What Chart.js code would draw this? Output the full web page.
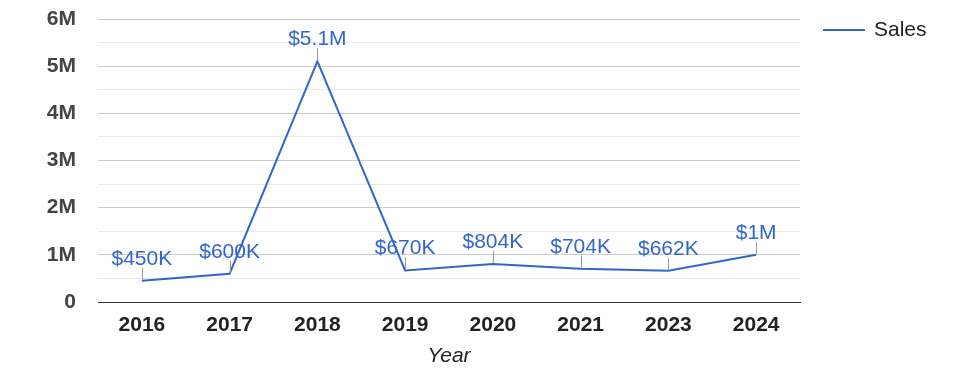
<!DOCTYPE html>
<html>
<head>
<meta charset="utf-8">
<script src="https://cdn.jsdelivr.net/npm/chart.js@4/dist/chart.umd.min.js"></script>
<style>
  html, body { margin: 0; padding: 0; background: #fff; }
  #wrap { width: 975px; height: 378px; }
</style>
</head>
<body>
<div id="wrap"><canvas id="chart-sales"></canvas></div>
<script>
var years = ["2016", "2017", "2018", "2019", "2020", "2021", "2023", "2024"];
var sales = [450000, 600000, 5100000, 670000, 804000, 704000, 662000, 1000000];
var salesLabels = ["$450K", "$600K", "$5.1M", "$670K", "$804K", "$704K", "$662K", "$1M"];
var seriesName = "Sales";
var lineColor = "#3366cc";

// labels above each point, with a small grey stem (google style)
var annotations = {
  id: "annotations",
  afterDatasetsDraw: function (chart) {
    var ctx = chart.ctx;
    var meta = chart.getDatasetMeta(0);
    ctx.save();
    meta.data.forEach(function (pt, i) {
      ctx.strokeStyle = "#999999";
      ctx.lineWidth = 1;
      ctx.beginPath();
      ctx.moveTo(Math.round(pt.x) + 0.5, pt.y - 1);
      ctx.lineTo(Math.round(pt.x) + 0.5, pt.y - 13);
      ctx.stroke();
      ctx.fillStyle = lineColor;
      ctx.font = "21px Arial, 'Liberation Sans', sans-serif";
      ctx.textAlign = "center";
      ctx.textBaseline = "alphabetic";
      ctx.fillText(salesLabels[i], pt.x, pt.y - 16);
    });
    ctx.restore();
  }
};

var sideLegend = {
  id: "sideLegend",
  afterDraw: function (chart) {
    var ctx = chart.ctx;
    ctx.save();
    ctx.strokeStyle = lineColor;
    ctx.lineWidth = 2;
    ctx.beginPath();
    ctx.moveTo(823, 30);
    ctx.lineTo(865, 30);
    ctx.stroke();
    ctx.fillStyle = "#222222";
    ctx.font = "21px Arial, 'Liberation Sans', sans-serif";
    ctx.textAlign = "left";
    ctx.textBaseline = "middle";
    ctx.fillText(seriesName, 874, 30);
    ctx.restore();
  }
};

var ctx = document.getElementById("chart-sales").getContext("2d");
var chart = new Chart(ctx, {
  type: "line",
  data: {
    labels: years,
    datasets: [{
      label: seriesName,
      data: sales,
      borderColor: lineColor,
      backgroundColor: lineColor,
      borderWidth: 2,
      pointRadius: 0,
      tension: 0
    }]
  },
  options: {
    responsive: true,
    maintainAspectRatio: false,
    animation: false,
    layout: { padding: { top: 19, right: 175, left: 0, bottom: 0 } },
    plugins: {
      legend: { display: false },
      tooltip: { enabled: false }
    },
    scales: {
      x: {
        offset: true,
        grid: { display: false },
        border: { display: true, color: "#333333", width: 1 },
        ticks: {
          color: "#222222",
          padding: 3,
          font: { family: "Arial, 'Liberation Sans', sans-serif", size: 21, weight: "bold" }
        },
        title: {
          display: true,
          text: "Year",
          color: "#222222",
          padding: { top: 0, bottom: 9 },
          font: { family: "Arial, 'Liberation Sans', sans-serif", size: 21, style: "italic" }
        },
        afterFit: function (scale) { scale.height = 76; }
      },
      y: {
        min: 0,
        max: 6000000,
        border: { display: false },
        grid: {
          drawTicks: true,
          tickLength: 22,
          tickColor: "rgba(0,0,0,0)",
          color: function (c) {
            if (c.tick.value === 0) return "#333333";
            return c.tick.value % 1000000 === 0 ? "#cccccc" : "#ebebeb";
          }
        },
        ticks: {
          stepSize: 500000,
          autoSkip: false,
          padding: 0,
          color: "#444444",
          font: { family: "Arial, 'Liberation Sans', sans-serif", size: 21, weight: "bold" },
          callback: function (v) {
            if (v % 1000000 !== 0) return "";
            return v === 0 ? "0" : (v / 1000000) + "M";
          }
        },
        afterFit: function (scale) { scale.width = 98; }
      }
    }
  },
  plugins: [annotations, sideLegend]
});
</script>
</body>
</html>
